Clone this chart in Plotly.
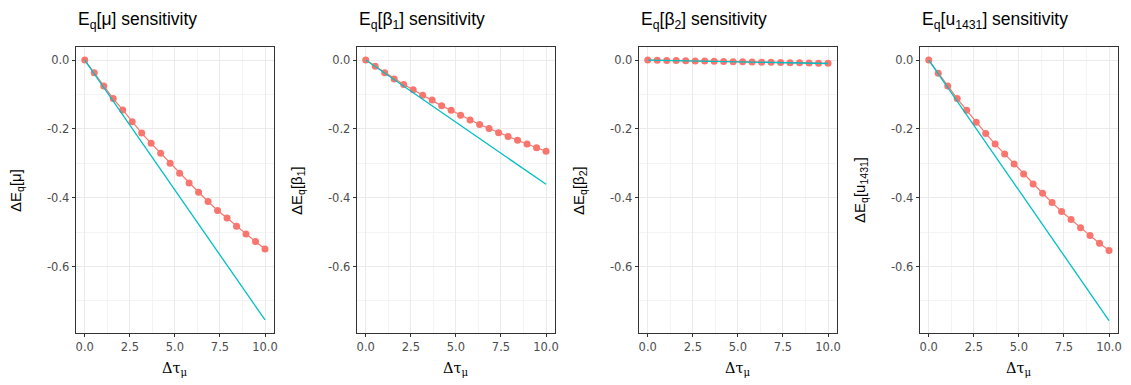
import plotly.graph_objects as go

# ---- data ----
x_pts = [0.0, 0.526, 1.053, 1.579, 2.105, 2.632, 3.158, 3.684, 4.211, 4.737,
         5.263, 5.789, 6.316, 6.842, 7.368, 7.895, 8.421, 8.947, 9.474, 10.0]

mu_red = [0, -0.037, -0.075, -0.112, -0.145, -0.179, -0.212, -0.242, -0.271, -0.300,
          -0.329, -0.357, -0.384, -0.411, -0.437, -0.459, -0.483, -0.505, -0.527, -0.549]
b1_red = [0, -0.018, -0.037, -0.055, -0.071, -0.086, -0.102, -0.116, -0.133, -0.146,
          -0.160, -0.174, -0.187, -0.199, -0.211, -0.222, -0.233, -0.244, -0.255, -0.265]
b2_red = [0, -0.0005, -0.001, -0.0015, -0.002, -0.0025, -0.003, -0.0035, -0.004, -0.0045,
          -0.005, -0.0055, -0.006, -0.0065, -0.007, -0.0075, -0.008, -0.0085, -0.009, -0.0095]
u_red = [0, -0.038, -0.075, -0.112, -0.146, -0.181, -0.213, -0.244, -0.273, -0.302,
         -0.331, -0.360, -0.387, -0.414, -0.440, -0.463, -0.487, -0.510, -0.532, -0.553]

x_lin = [0.0, 10.0]
mu_teal = [0, -0.755]
b1_teal = [0, -0.361]
b2_teal = [0, -0.010]
u_teal = [0, -0.757]

titles = ["E<sub>q</sub>[μ] sensitivity", "E<sub>q</sub>[β<sub>1</sub>] sensitivity",
          "E<sub>q</sub>[β<sub>2</sub>] sensitivity", "E<sub>q</sub>[u<sub>1431</sub>] sensitivity"]
ylabels = ["ΔE<sub>q</sub>[μ]", "ΔE<sub>q</sub>[β<sub>1</sub>]",
           "ΔE<sub>q</sub>[β<sub>2</sub>]", "ΔE<sub>q</sub>[u<sub>1431</sub>]"]
xlabel = "<span style='font-family:DejaVu Serif'>Δτ<sub>μ</sub></span>"
x_ticks = [0, 2.5, 5, 7.5, 10]
x_ticktext = ["0.0", "2.5", "5.0", "7.5", "10.0"]
y_ticks = [0, -0.2, -0.4, -0.6]
y_ticktext = ["0.0", "-0.2", "-0.4", "-0.6"]

reds = [mu_red, b1_red, b2_red, u_red]
teals = [mu_teal, b1_teal, b2_teal, u_teal]

RED = "#F8766D"
TEAL = "#00BFC4"
W, H = 1131, 385
lefts = [76, 358, 641, 923]
pw = 199
top_px, bot_px = 47, 333

fig = go.Figure()
for i in range(4):
    xa = "x" if i == 0 else f"x{i+1}"
    ya = "y" if i == 0 else f"y{i+1}"
    fig.add_trace(go.Scatter(x=x_pts, y=reds[i], mode="lines+markers",
                             line=dict(color=RED, width=1.2),
                             marker=dict(color=RED, size=7),
                             xaxis=xa, yaxis=ya, showlegend=False))
    fig.add_trace(go.Scatter(x=x_lin, y=teals[i], mode="lines",
                             line=dict(color=TEAL, width=1.3),
                             xaxis=xa, yaxis=ya, showlegend=False))
    dom_x = [lefts[i] / W, (lefts[i] + pw) / W]
    dom_y = [1 - bot_px / H, 1 - top_px / H]
    axcommon = dict(showline=True, linecolor="#333333", linewidth=1, mirror=True,
                    ticks="outside", ticklen=3, tickcolor="#333333",
                    tickfont=dict(family="DejaVu Sans", size=11.5, color="#4D4D4D"),
                    showgrid=True, gridcolor="#EBEBEB", gridwidth=1, zeroline=False)
    key = "" if i == 0 else str(i + 1)
    fig.layout["xaxis" + key] = dict(domain=dom_x, range=[-0.5, 10.5], anchor=ya,
                                     tickvals=x_ticks, ticktext=x_ticktext,
                                     minor=dict(tickvals=[1.25, 3.75, 6.25, 8.75], showgrid=True,
                                                gridcolor="#F4F4F4", gridwidth=0.8, ticks=""),
                                     **axcommon)
    fig.layout["yaxis" + key] = dict(domain=dom_y, range=[-0.793, 0.038], anchor=xa,
                                     tickvals=y_ticks, ticktext=y_ticktext,
                                     minor=dict(tickvals=[-0.1, -0.3, -0.5, -0.7], showgrid=True,
                                                gridcolor="#F4F4F4", gridwidth=0.8, ticks=""),
                                     **axcommon)
    # panel title
    fig.add_annotation(text=titles[i], x=lefts[i] / W, y=1 - 20 / H, xref="paper", yref="paper",
                       xanchor="left", yanchor="middle", showarrow=False,
                       font=dict(family="Liberation Sans, Arial", size=17.5, color="black"))
    # x label
    fig.add_annotation(text=xlabel, x=(lefts[i] + pw / 2) / W, y=1 - 369 / H,
                       xref="paper", yref="paper", xanchor="center", yanchor="middle",
                       showarrow=False, font=dict(size=14.5, color="black"))
    # y label
    fig.add_annotation(text=ylabels[i], x=(lefts[i] - 59) / W, y=1 - 190 / H,
                       xref="paper", yref="paper", xanchor="center", yanchor="middle",
                       textangle=-90, showarrow=False,
                       font=dict(family="Liberation Sans, Arial", size=15, color="black"))

fig.update_layout(width=W, height=H, margin=dict(l=0, r=0, t=0, b=0),
                  paper_bgcolor="white", plot_bgcolor="white")
fig.write_html("out.html")
